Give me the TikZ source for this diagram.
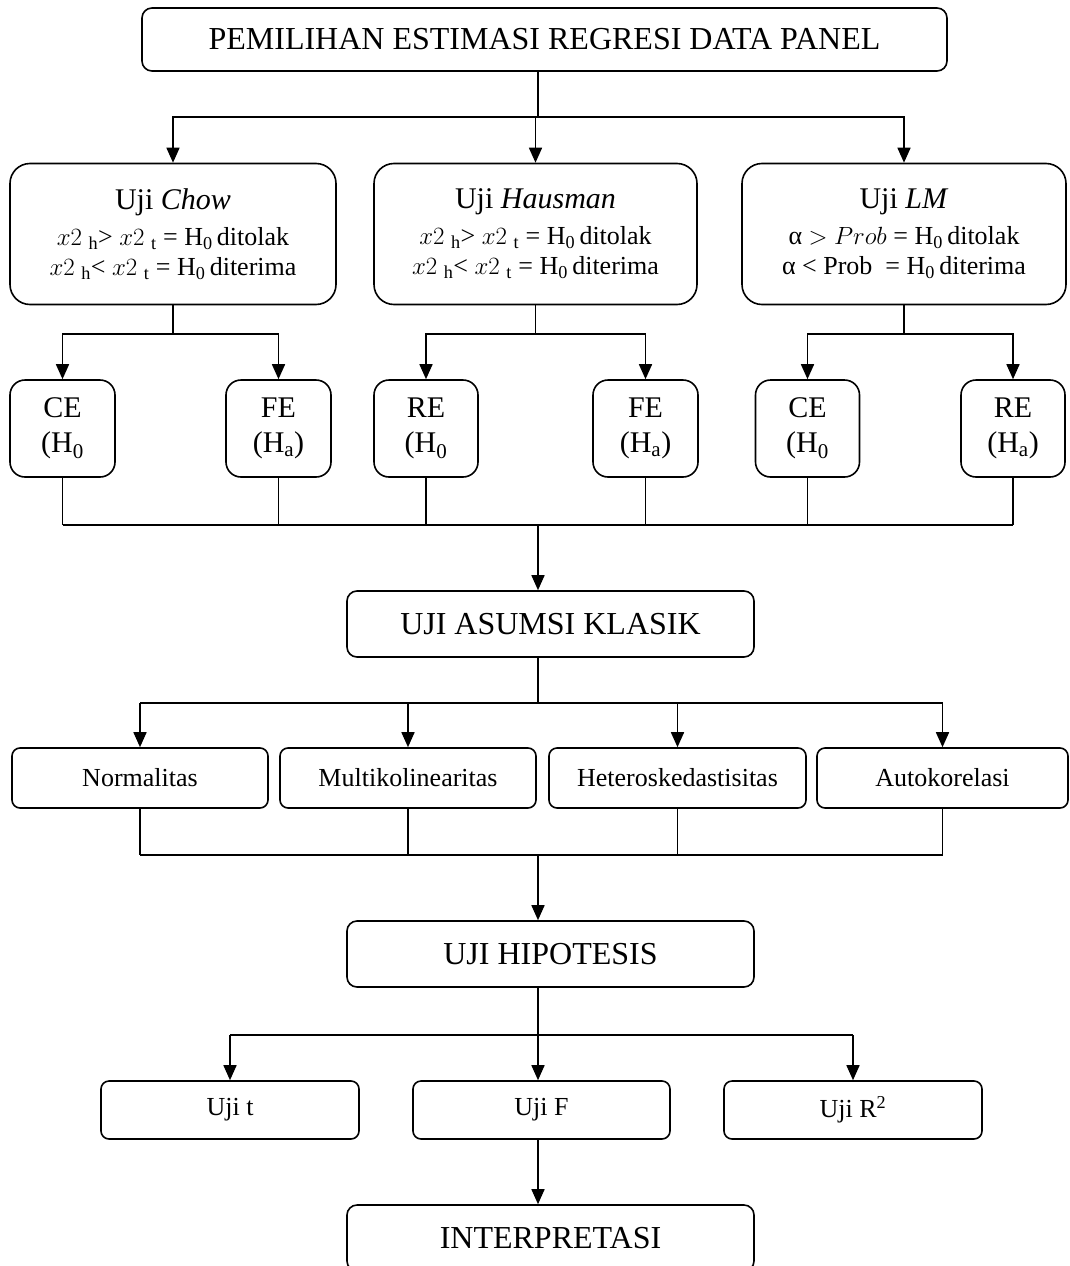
\documentclass[tikz,border=0pt]{standalone}
\usepackage{fontspec}
\setmainfont{Liberation Serif}
\usetikzlibrary{arrows.meta}
\begin{document}
\begin{tikzpicture}[x=1pt,y=-1pt,
  box/.style={draw, line width=1.6pt, inner sep=0pt, align=center},
  big/.style={box, rounded corners=10pt, font=\fontsize{32}{38}\selectfont, minimum width=407pt, minimum height=66pt},
  test/.style={box, rounded corners=20pt, minimum width=324pt, minimum height=141pt, font=\fontsize{26}{30}\selectfont},
  est/.style={box, rounded corners=15pt, minimum width=104pt, minimum height=97pt, font=\fontsize{30}{35}\selectfont},
  asm/.style={box, rounded corners=8pt, minimum width=256pt, minimum height=60pt, font=\fontsize{26}{30}\selectfont},
  hyp/.style={box, rounded corners=8pt, minimum width=258pt, minimum height=58pt, font=\fontsize{26}{30}\selectfont},
  ln/.style={line width=1.6pt},
  arr/.style={line width=1.6pt, -{Triangle[length=15pt,width=13pt]}}]
\useasboundingbox (0,0) rectangle (1070,1266);
\fill[white] (0,0) rectangle (1070,1266);
\clip (0,0) rectangle (1070,1266);

% helper coordinates
\coordinate (xm) at (538,0);
\coordinate (yT) at (0,117);
\coordinate (yA) at (0,334);
\coordinate (yB) at (0,525);
\coordinate (yC) at (0,703);
\coordinate (yD) at (0,855);
\coordinate (yE) at (0,1035);

% nodes
\node[big, minimum width=805pt, minimum height=63pt] (top) at (544.5,39.5) {PEMILIHAN ESTIMASI REGRESI DATA PANEL};

\node[test, minimum width=326pt] (chow) at (173,234) {{\fontsize{30}{34}\selectfont Uji \textit{Chow}}\\[6pt]
  $x2$ \textsubscript{h}> $x2$ \textsubscript{t} = H\textsubscript{0}\,ditolak\\
  $x2$ \textsubscript{h}< $x2$ \textsubscript{t} = H\textsubscript{0}\,diterima};
\node[test, minimum width=323pt] (haus) at (535.5,234) {{\fontsize{30}{34}\selectfont Uji \textit{Hausman}}\\[6pt]
  $x2$ \textsubscript{h}> $x2$ \textsubscript{t} = H\textsubscript{0}\,ditolak\\
  $x2$ \textsubscript{h}< $x2$ \textsubscript{t} = H\textsubscript{0}\,diterima};
\node[test, minimum width=324pt] (lm) at (904,234) {{\fontsize{30}{34}\selectfont Uji \textit{LM}}\\[6pt]
  α $>$ $Prob$ = H\textsubscript{0}\,ditolak\\
  α < Prob \ = H\textsubscript{0}\,diterima};

\node[est, minimum width=105pt] (ce1) at (62.5,428.5) {CE\\(H\textsubscript{0}};
\node[est, minimum width=105pt] (fe1) at (278.5,428.5) {FE\\(H\textsubscript{a})};
\node[est, minimum width=104pt] (re2) at (426,428.5) {RE\\(H\textsubscript{0}};
\node[est, minimum width=105pt] (fe2) at (645.5,428.5) {FE\\(H\textsubscript{a})};
\node[est, minimum width=104pt] (ce3) at (807.5,428.5) {CE\\(H\textsubscript{0}};
\node[est, minimum width=104pt] (re3) at (1013,428.5) {RE\\(H\textsubscript{a})};

\node[big] (ak) at (550.5,624) {UJI ASUMSI KLASIK};

\node[asm] (norm) at (140,778) {Normalitas};
\node[asm] (multi) at (408,778) {Multikolinearitas};
\node[asm, minimum width=257pt] (het) at (677.5,778) {Heteroskedastisitas};
\node[asm, minimum width=251pt] (auto) at (942.5,778) {Autokorelasi};

\node[big] (hip) at (550.5,954) {UJI HIPOTESIS};

\node[hyp] (ut) at (230,1110) {\raisebox{-3pt}{Uji t}};
\node[hyp, minimum width=257pt] (uf) at (541.5,1110) {\raisebox{-3pt}{Uji F}};
\node[hyp] (ur) at (853,1110) {\raisebox{-2pt}{Uji R\textsuperscript{2}}};

\node[big] (intp) at (550.5,1238) {INTERPRETASI};

% connectors: top
\draw[ln] (top.south -| xm) -- (xm |- yT);
\draw[arr] (xm |- yT) -| (chow.north);
\draw[arr] (xm |- yT) -| (haus.north);
\draw[arr] (xm |- yT) -| (lm.north);

% tests to estimators
\draw[ln] (chow.south) -- (chow.south |- yA);
\draw[arr] (chow.south |- yA) -| (ce1.north);
\draw[arr] (chow.south |- yA) -| (fe1.north);
\draw[ln] (haus.south) -- (haus.south |- yA);
\draw[arr] (haus.south |- yA) -| (re2.north);
\draw[arr] (haus.south |- yA) -| (fe2.north);
\draw[ln] (lm.south) -- (lm.south |- yA);
\draw[arr] (lm.south |- yA) -| (ce3.north);
\draw[arr] (lm.south |- yA) -| (re3.north);

% estimators to asumsi klasik
\foreach \n in {ce1,fe1,re2,fe2,ce3,re3} \draw[ln] (\n.south) -- (\n.south |- yB);
\draw[ln] (ce1.south |- yB) -- (re3.south |- yB);
\draw[arr] (xm |- yB) -- (ak.north -| xm);

% asumsi klasik branches
\draw[ln] (ak.south -| xm) -- (xm |- yC);
\draw[ln] (norm.north |- yC) -- (auto.north |- yC);
\foreach \n in {norm,multi,het,auto} \draw[arr] (\n.north |- yC) -- (\n.north);
\foreach \n in {norm,multi,het,auto} \draw[ln] (\n.south) -- (\n.south |- yD);
\draw[ln] (norm.south |- yD) -- (auto.south |- yD);
\draw[arr] (xm |- yD) -- (hip.north -| xm);

% hipotesis branches
\draw[ln] (hip.south -| xm) -- (xm |- yE);
\draw[ln] (ut.north |- yE) -- (ur.north |- yE);
\draw[arr] (ut.north |- yE) -- (ut.north);
\draw[arr] (xm |- yE) -- (uf.north -| xm);
\draw[arr] (ur.north |- yE) -- (ur.north);
\draw[arr] (uf.south -| xm) -- (intp.north -| xm);
\end{tikzpicture}
\end{document}
